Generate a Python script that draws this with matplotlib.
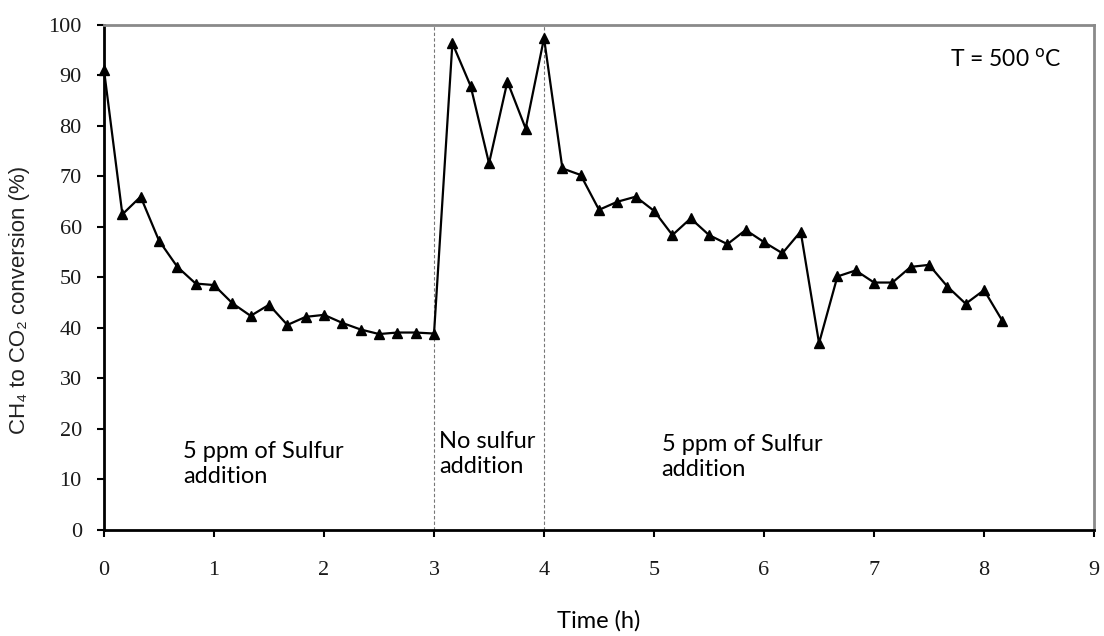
import matplotlib
matplotlib.use("Agg")
import matplotlib.pyplot as plt

# time in hours (10 min steps), conversion in %
time_h = [0.0, 0.167, 0.333, 0.5, 0.667, 0.833, 1.0, 1.167, 1.333, 1.5, 1.667, 1.833,
          2.0, 2.167, 2.333, 2.5, 2.667, 2.833, 3.0,
          3.167, 3.333, 3.5, 3.667, 3.833, 4.0,
          4.167, 4.333, 4.5, 4.667, 4.833, 5.0, 5.167, 5.333, 5.5, 5.667, 5.833,
          6.0, 6.167, 6.333, 6.5, 6.667, 6.833, 7.0, 7.167, 7.333, 7.5, 7.667,
          7.833, 8.0, 8.167]
conversion = [91.1, 62.5, 66.0, 57.3, 52.1, 48.8, 48.5, 44.9, 42.4, 44.6, 40.6, 42.2,
              42.6, 41.0, 39.7, 38.8, 39.1, 39.1, 38.9,
              96.4, 87.9, 72.6, 88.8, 79.5, 97.4,
              71.6, 70.3, 63.4, 65.0, 66.0, 63.2, 58.4, 61.7, 58.4, 56.6, 59.4,
              57.0, 54.8, 59.1, 37.0, 50.2, 51.4, 49.0, 49.0, 52.1, 52.5, 48.2,
              44.8, 47.5, 41.4]
switch_times = [3, 4]

xticks = list(range(0, 10))
yticks = list(range(0, 101, 10))

fig = plt.figure(figsize=(11.04, 6.36), dpi=100)
ax = fig.add_axes([0.0942, 0.1667, 0.8968, 0.794])

for t in switch_times:
    ax.axvline(t, color="#777777", lw=0.8, ls=(0, (3, 2)), zorder=1)

ax.plot(time_h, conversion, color="black", lw=1.6, marker="^", ms=7,
        markerfacecolor="black", zorder=3, clip_on=False)

ax.set_xlim(0, 9)
ax.set_ylim(0, 100)
ax.set_xticks(xticks)
ax.set_yticks(yticks)

for side in ["left", "bottom"]:
    ax.spines[side].set_color("black")
    ax.spines[side].set_linewidth(2)
for side in ["top", "right"]:
    ax.spines[side].set_color("#8a8a8a")
    ax.spines[side].set_linewidth(2)

ax.tick_params(axis="x", direction="out", length=5, width=1.5, pad=17)
ax.tick_params(axis="y", direction="out", length=5, width=1.5, pad=11)
for lab in ax.get_xticklabels() + ax.get_yticklabels():
    lab.set_fontfamily("Liberation Serif")
    lab.set_fontsize(16)
    lab.set_color("#1a1a1a")

sans = ["Lato", "DejaVu Sans"]
ax.set_xlabel("Time (h)", family=sans, fontsize=17)
ax.xaxis.label.set_va("center")
ax.xaxis.set_label_coords(0.5, -0.18)
ax.set_ylabel("CH₄ to CO₂ conversion (%)", family=["Liberation Sans", "DejaVu Sans"],
              fontsize=16, color="#222222")
ax.yaxis.label.set_va("center")
ax.yaxis.set_label_coords(-0.085, 0.455)

ax.text(0.72, 13, "5 ppm of Sulfur\naddition", family=sans, fontsize=17,
        va="center", linespacing=1.25)
ax.text(3.045, 15, "No sulfur\naddition", family=sans, fontsize=17,
        va="center", linespacing=1.25)
ax.text(5.07, 14.4, "5 ppm of Sulfur\naddition", family=sans, fontsize=17,
        va="center", linespacing=1.25)
ax.text(7.69, 93, r"T = 500 $^{\mathrm{o}}$C", family=sans, fontsize=16.5, va="center")

fig.savefig("out.png", dpi=100)
